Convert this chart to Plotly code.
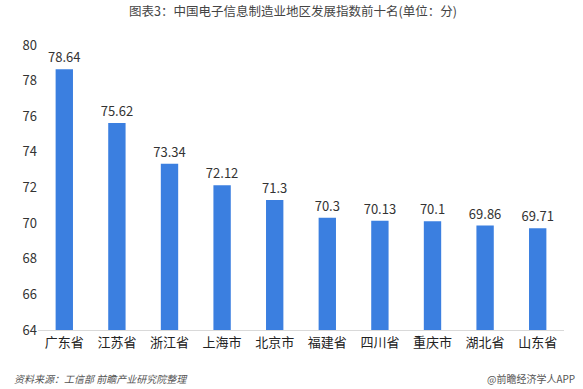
import plotly.graph_objects as go

categories = ["广东省", "江苏省", "浙江省", "上海市", "北京市", "福建省", "四川省", "重庆市", "湖北省", "山东省"]
values = [78.64, 75.62, 73.34, 72.12, 71.3, 70.3, 70.13, 70.1, 69.86, 69.71]
value_labels = ["78.64", "75.62", "73.34", "72.12", "71.3", "70.3", "70.13", "70.1", "69.86", "69.71"]
y_ticks = [64, 66, 68, 70, 72, 74, 76, 78, 80]

title_text = "图表3：中国电子信息制造业地区发展指数前十名(单位：分)"
source_text = "资料来源：工信部 前瞻产业研究院整理"
brand_text = "@前瞻经济学人APP"

font_family = "Noto Sans CJK SC, Noto Sans, sans-serif"

fig = go.Figure(
    go.Bar(
        x=categories,
        y=values,
        text=value_labels,
        textposition="outside",
        constraintext="none",
        textfont=dict(size=13, color="#333333", family=font_family),
        marker=dict(color="#3B7FE0", line=dict(width=0)),
        cliponaxis=False,
    )
)

fig.update_layout(
    width=583,
    height=389,
    margin=dict(l=38, r=19, t=45, b=59),
    paper_bgcolor="white",
    plot_bgcolor="white",
    bargap=0.67,
    showlegend=False,
    font=dict(family=font_family, color="#333333"),
    annotations=[
        dict(text="<i>" + source_text + "</i>", xref="paper", yref="paper", x=-0.05, y=-0.17,
             xanchor="left", yanchor="middle", showarrow=False,
             font=dict(size=10, color="#555555", family=font_family)),
        dict(text=brand_text, xref="paper", yref="paper", x=1.025, y=-0.17, xanchor="right", yanchor="middle",
             showarrow=False, font=dict(size=10, color="#555555", family=font_family)),
        dict(text=title_text, xref="paper", yref="paper", x=0.485, y=1.12, xanchor="center", yanchor="middle",
             showarrow=False, font=dict(size=12.5, color="#444444", family=font_family)),
    ],
)

fig.update_yaxes(
    range=[64, 80],
    tickvals=y_ticks,
    showgrid=False,
    zeroline=False,
    showline=False,
    ticks="",
    tickfont=dict(size=13, color="#333333", family=font_family),
)
fig.update_xaxes(
    showline=True,
    linecolor="#D9D9D9",
    linewidth=1,
    ticks="",
    tickfont=dict(size=13, color="#222222", family=font_family),
)

fig.write_html("out.html")
